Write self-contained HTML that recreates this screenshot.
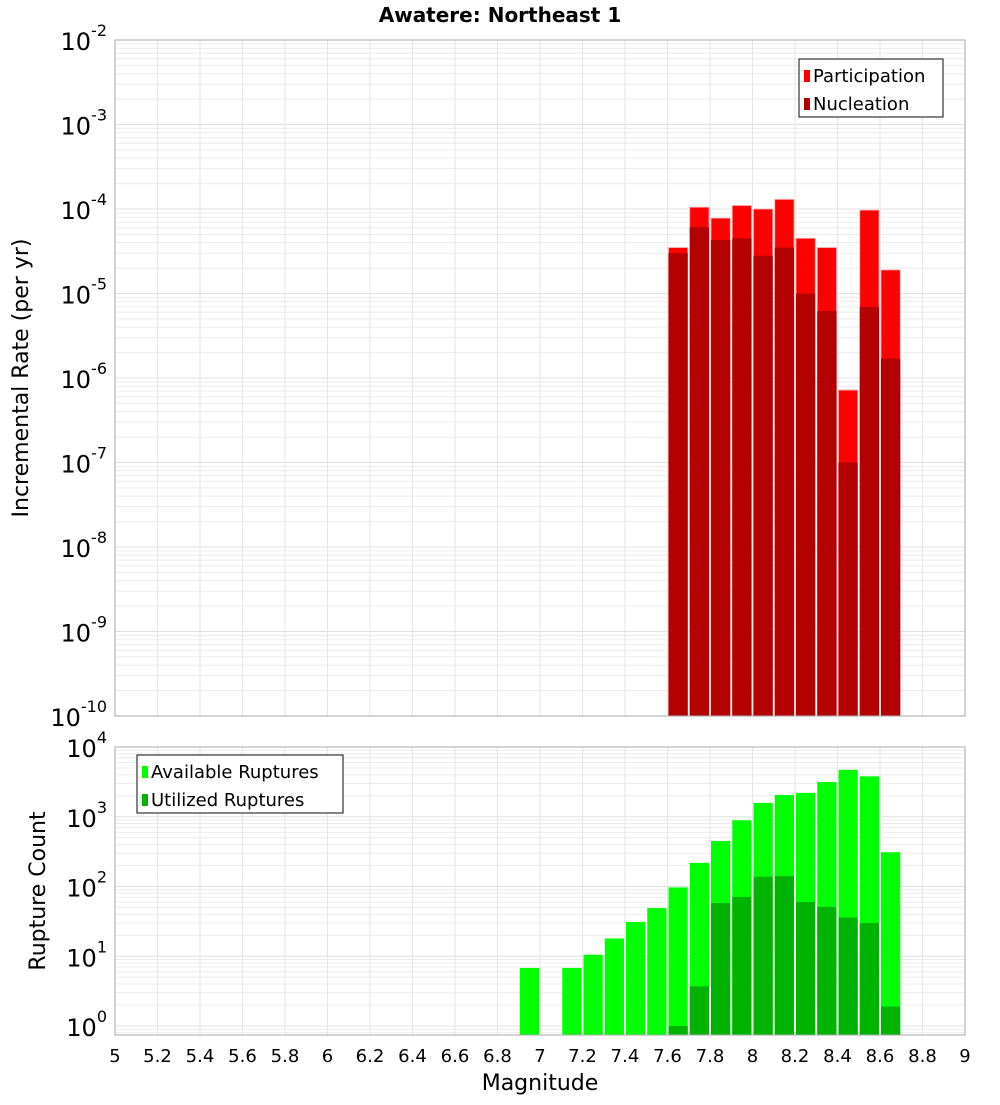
<!DOCTYPE html>
<html><head><meta charset="utf-8"><style>
body{margin:0;background:#fff;font-family:"Liberation Sans","DejaVu Sans",sans-serif}
svg text{font-family:"DejaVu Sans","Liberation Sans",sans-serif}
</style></head><body>
<svg id="c" width="1000" height="1100" xmlns="http://www.w3.org/2000/svg">
<text x="500" y="22" text-anchor="middle" font-size="20" font-weight="bold">Awatere: Northeast 1</text>
<g id="top"></g>
<g id="bot"></g>
<text transform="translate(28,378) rotate(-90)" text-anchor="middle" font-size="22">Incremental Rate (per yr)</text>
<text transform="translate(45,891) rotate(-90)" text-anchor="middle" font-size="22">Rupture Count</text>
<text x="540" y="1090" text-anchor="middle" font-size="22">Magnitude</text>
</svg>
<script>
const mags=[6.95,7.05,7.15,7.25,7.35,7.45,7.55,7.65,7.75,7.85,7.95,8.05,8.15,8.25,8.35,8.45,8.55,8.65];
const rateMags=[7.65,7.75,7.85,7.95,8.05,8.15,8.25,8.35,8.45,8.55,8.65];
const participation=[3.5e-5,1.05e-4,7.8e-5,1.1e-4,1.0e-4,1.3e-4,4.5e-5,3.5e-5,7.2e-7,9.7e-5,1.9e-5];
const nucleation=[3.0e-5,6.1e-5,4.3e-5,4.5e-5,2.8e-5,3.5e-5,1.0e-5,6.2e-6,1.0e-7,6.9e-6,1.7e-6];
const available=[6.8,0,6.8,10.5,18,31,49,97,218,450,890,1580,2050,2200,3150,4700,3800,310];
const utilized=[0,0,0,0,0,0,0,1,3.7,58,71,138,141,60,51,36,30,1.9];
const xTicks=[5,5.2,5.4,5.6,5.8,6,6.2,6.4,6.6,6.8,7,7.2,7.4,7.6,7.8,8,8.2,8.4,8.6,8.8,9];
const topExps=[-2,-3,-4,-5,-6,-7,-8,-9,-10];
const botExps=[4,3,2,1,0];
const NS="http://www.w3.org/2000/svg";
const X0=115,X1=965;
const xs=m=>X0+(m-5)/4*(X1-X0);
function mk(p,t,a){const e=document.createElementNS(NS,t);for(const k in a)e.setAttribute(k,a[k]);p.appendChild(e);return e;}
function panel(g,yTop,yBot,yFn,lo,hi,name){
  mk(g,'rect',{x:X0,y:yTop,width:X1-X0,height:yBot-yTop,fill:'#fff'});
  for(let e=lo;e<hi;e++)for(let k=1;k<10;k++){const y=yFn(k*Math.pow(10,e));if(y<yTop||y>yBot)continue;
    const l=mk(g,'line',{x1:X0,x2:X1,y1:y,y2:y,stroke:k==1?'#e0e0e0':'#ececec','stroke-width':1});}
  xTicks.forEach(t=>{const x=xs(t);mk(g,'line',{x1:x,x2:x,y1:yTop,y2:yBot,stroke:'#e6e6e6'});});
}
function decadeLabels(g,exps,yFn,name){exps.forEach(e=>{const y=yFn(Math.pow(10,e));
  const t=mk(g,'text',{x:107,y:y+10,'text-anchor':'end','font-size':24});
  
  
  t.textContent='10';const s=mk(t,'tspan',{dy:-14,'font-size':16});s.textContent=String(e);});}
// top
const T=document.getElementById('top');
const tY=v=>40+(-2-Math.log10(v))*84.5;
panel(T,40,716,tY,-10,-2,'rate');
rateMags.forEach((m,i)=>{
  const x=xs(m-0.05)+1,w=xs(m+0.05)-xs(m-0.05)-2;
  const r1=mk(T,'rect',{x:x,y:tY(participation[i]),width:w,height:716-tY(participation[i]),fill:'#ff0000',stroke:'#ffb0b0','stroke-width':0.8});
  
  
  const r2=mk(T,'rect',{x:x,y:tY(nucleation[i]),width:w,height:716-tY(nucleation[i]),fill:'#b30000'});
  
  
});
mk(T,'rect',{x:X0,y:40,width:X1-X0,height:676,fill:'none',stroke:'#aaa'});
decadeLabels(T,topExps,tY,'rate');
// bottom
const B=document.getElementById('bot');
const bY=v=>747+(4-Math.log10(v))*69.75;
panel(B,747,1035,bY,-1,4,'count');
mags.forEach((m,i)=>{
  const x=xs(m-0.05)+1,w=xs(m+0.05)-xs(m-0.05)-2;
  if(available[i]>0){const r=mk(B,'rect',{x:x,y:bY(available[i]),width:w,height:1035-bY(available[i]),fill:'#00ff00'});
    
    }
  if(utilized[i]>0){const r=mk(B,'rect',{x:x,y:bY(utilized[i]),width:w,height:1035-bY(utilized[i]),fill:'#00b300'});
    
    }
});
mk(B,'rect',{x:X0,y:747,width:X1-X0,height:288,fill:'none',stroke:'#aaa'});
decadeLabels(B,botExps,bY,'count');
xTicks.forEach(t=>{const e=mk(B,'text',{x:xs(t),y:1062,'text-anchor':'middle','font-size':18});
  
  
  e.textContent=String(t);});
// legends
function legend(g,x,y,w,items,name){const lg=mk(g,'g',{});
  
  
  mk(lg,'rect',{x:x,y:y,width:w,height:58,fill:'#fff',stroke:'#333','stroke-width':1.2});
  items.forEach((it,i)=>{mk(lg,'rect',{x:x+5,y:y+11+i*28,width:6,height:12,fill:it[1]});
    const t=mk(lg,'text',{x:x+14,y:y+23+i*28,'font-size':18});t.textContent=it[0];});}
legend(T,799,59,144,[['Participation','#ff0000'],['Nucleation','#b30000']],'rate-legend');
legend(B,137,755,206,[['Available Ruptures','#00ff00'],['Utilized Ruptures','#00b300']],'count-legend');
</script>
</body></html>
